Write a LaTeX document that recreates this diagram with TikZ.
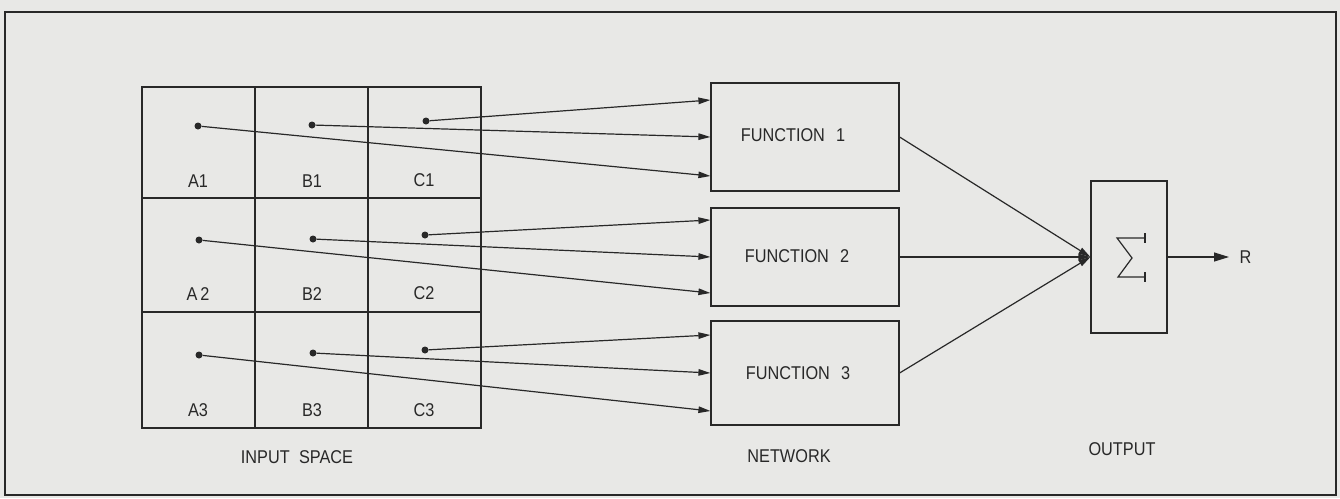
\documentclass[tikz,border=0pt]{standalone}
\usepackage{fontspec}
\newfontfamily\plotfont[FakeStretch=0.88]{Liberation Sans}
\usetikzlibrary{arrows.meta,calc}
\definecolor{paper}{RGB}{232,232,230}
\definecolor{ink}{RGB}{40,40,40}
\begin{document}
\begin{tikzpicture}[x=1pt,y=-1pt,
  every node/.style={font=\plotfont\fontsize{18.5}{18.5}\selectfont, text=ink},
  ln/.style={draw=ink, line width=1.2pt},
  box/.style={ln, rectangle, minimum width=188pt, inner sep=0pt},
  arr/.style={ln, -{Triangle[length=12pt,width=6.5pt]}},
  bigarr/.style={ln, -{Triangle[length=15pt,width=9pt]}},
  dot/.style={fill=ink, circle, inner sep=0pt, minimum size=7pt}]
\fill[paper] (0,0) rectangle (1340,498);
\useasboundingbox (0,0) rectangle (1340,498);
\draw[ln] (5,12) rectangle (1336,495);
% grid
\draw[ln] (142,87) rectangle (481,428);
\draw[ln] (255,87) -- (255,428) (368,87) -- (368,428)
          (142,198) -- (481,198) (142,312) -- (481,312);
% dots
\node[dot] (a1) at (198,126) {};
\node[dot] (b1) at (312,125) {};
\node[dot] (c1) at (426,121) {};
\node[dot] (a2) at (199,240) {};
\node[dot] (b2) at (313,239) {};
\node[dot] (c2) at (425,235) {};
\node[dot] (a3) at (199,355) {};
\node[dot] (b3) at (313,353) {};
\node[dot] (c3) at (425,350) {};
% cell labels
\node (la1) at (198,181) {A1};
\node (lb1) at (312,181) {B1};
\node (lc1) at (424,180) {C1};
\node (la2) at (198,294) {A\,2};
\node (lb2) at (312,294) {B2};
\node (lc2) at (424,293) {C2};
\node (la3) at (198,410) {A3};
\node (lb3) at (312,410) {B3};
\node (lc3) at (424,410) {C3};
% function boxes
\node[box, minimum height=108pt] (f1) at (805,137) {};
\node[box, minimum height=98pt] (f2) at (805,257) {};
\node[box, minimum height=104pt] (f3) at (805,373) {};
\node (t1) at (793,135) {FUNCTION\hspace{0.6em}1};
\node (t2) at (797,256) {FUNCTION\hspace{0.6em}2};
\node (t3) at (798,373) {FUNCTION\hspace{0.6em}3};
% arrows into boxes
\draw[arr] (c1) -- ([yshift=37pt]f1.west);
\draw[arr] (b1) -- (f1.west);
\draw[arr] (a1) -- ([yshift=-39pt]f1.west);
\draw[arr] (c2) -- ([yshift=37pt]f2.west);
\draw[arr] (b2) -- (f2.west);
\draw[arr] (a2) -- ([yshift=-36pt]f2.west);
\draw[arr] (c3) -- ([yshift=38pt]f3.west);
\draw[arr] (b3) -- (f3.west);
\draw[arr] (a3) -- ([yshift=-38pt]f3.west);
% output
\node[ln, rectangle, minimum width=76pt, minimum height=152pt, inner sep=0pt] (out) at (1129,257) {};
\draw[arr] (f1.east) -- (out.west);
\draw[arr] (f2.east) -- (out.west);
\draw[arr] (f3.east) -- (out.west);
\draw[ln, line join=miter] (1145,238) -- (1117,238) -- (1132,258) -- (1118,277) -- (1145,277);
\draw[ln] (1145,233) -- (1145,243) (1145,272) -- (1145,282);
\coordinate (rend) at (1229,257);
\draw[bigarr] (out.east) -- (rend);
\node[anchor=west] (r) at (1236,257) {R};
% captions
\node (cin) at (297,457) {INPUT\hspace{0.5em}SPACE};
\node (cnet) at (789,456) {NETWORK};
\node (cout) at (1122,449) {OUTPUT};
\end{tikzpicture}
\end{document}
